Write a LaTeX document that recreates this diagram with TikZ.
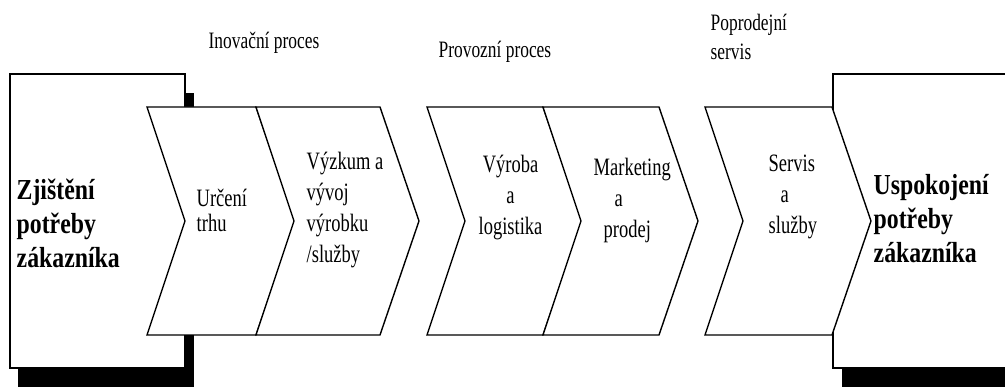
\documentclass[tikz,border=0pt]{standalone}
\usepackage{fontspec}
\setmainfont{Liberation Serif}
\newfontfamily\narrowrm[FakeStretch=0.74]{Liberation Serif}
\newfontfamily\widerm[FakeStretch=0.82]{Liberation Serif}

\begin{document}
\begin{tikzpicture}[x=1pt,y=-1pt,line width=1.4pt,
 txt/.style={font=\narrowrm\fontsize{25}{31}\selectfont,align=left,inner sep=0pt,anchor=west},
 big/.style={font=\widerm\bfseries\fontsize{29}{34}\selectfont,align=left,inner sep=0pt,anchor=west}]
\useasboundingbox (0,0) rectangle (1005,387);
\clip (0,0) rectangle (1005,387);
% end boxes with shadow
\fill[black] (18,93) rectangle (194,400);
\fill[black] (842,93) rectangle (1020,400);
\draw[fill=white] (10,74) rectangle (185,368);
\draw[fill=white] (833,74) rectangle (1020,368);
% chevrons
\foreach \l/\r in {147/256,256/380,427/543,543/659,705/832}{
 \draw[fill=white,line join=miter] (\l,107) -- (\r,107) -- (\r+39,221) -- (\r,335) -- (\l,335) -- (\l+38,221) -- cycle;
}
% texts
\node[big] (need) at (16,223) {Zjištění\\potřeby\\zákazníka};
\node[big] (satisfy) at (873,219) {Uspokojení\\potřeby\\zákazníka};
\node[txt,font=\narrowrm\fontsize{25}{25}\selectfont] (market) at (196,210) {Určení\\trhu};
\node[txt] (research) at (306,210) {Výzkum a\\vývoj\\výrobku\\/služby};
\node[txt,align=center] (production) at (478,198) {Výroba\\a\\logistika};
\node[txt] (sales) at (593,200) {Marketing\\\hspace*{21pt}a\\\hspace*{10pt}prodej};
\node[txt] (service) at (768,197) {Servis\\\hspace*{12pt}a\\služby};
\node[txt,font=\narrowrm\fontsize{23.5}{29}\selectfont] (innov) at (208,43) {Inovační proces};
\node[txt,font=\narrowrm\fontsize{23.5}{29}\selectfont] (oper) at (438,52) {Provozní proces};
\node[txt,font=\narrowrm\fontsize{23.5}{29}\selectfont] (after) at (710,37) {Poprodejní\\servis};
\end{tikzpicture}
\end{document}
